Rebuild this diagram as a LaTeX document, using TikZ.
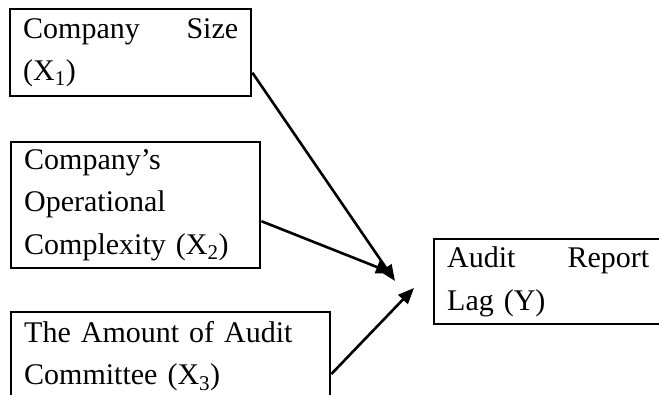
\documentclass[tikz,border=0pt]{standalone}
\usepackage{fontspec}
\setmainfont{Liberation Serif}
\usetikzlibrary{arrows.meta}

\begin{document}
\begin{tikzpicture}[x=1pt,y=-1pt,>={Triangle[length=16pt,width=13pt]},
  varbox/.style={draw,line width=2.4pt,anchor=north west,inner xsep=13pt,
    font=\fontsize{30}{42.5}\selectfont,text width=#1},
  link/.style={->,line width=2.6pt}]

\clip (0,0) rectangle (659,395);

\node[varbox=215pt,minimum height=87pt] (size) at (9,8)
  {Company \hfill Size\\(X\textsubscript{1})};
\node[varbox=223pt,minimum height=126pt] (complex) at (10,141)
  {Company's\\Operational\\Complexity (X\textsubscript{2})};
\node[varbox=293pt,minimum height=88pt] (amount) at (10,311)
  {The Amount of Audit\\Committee (X\textsubscript{3})};
\node[varbox=202pt,minimum height=85pt] (lag) at (433,238)
  {Audit \hfill Report\\Lag (Y)};

\coordinate (tip1) at (395,281);
\coordinate (tip2) at (392,273);
\coordinate (tip3) at (414,288);

\draw[link] ([yshift=-20pt]size.east) -- (tip1);
\draw[link] ([yshift=-16pt]complex.east) -- (tip2);
\draw[link] ([yshift=-63pt]amount.north east) -- (tip3);

\end{tikzpicture}
\end{document}
